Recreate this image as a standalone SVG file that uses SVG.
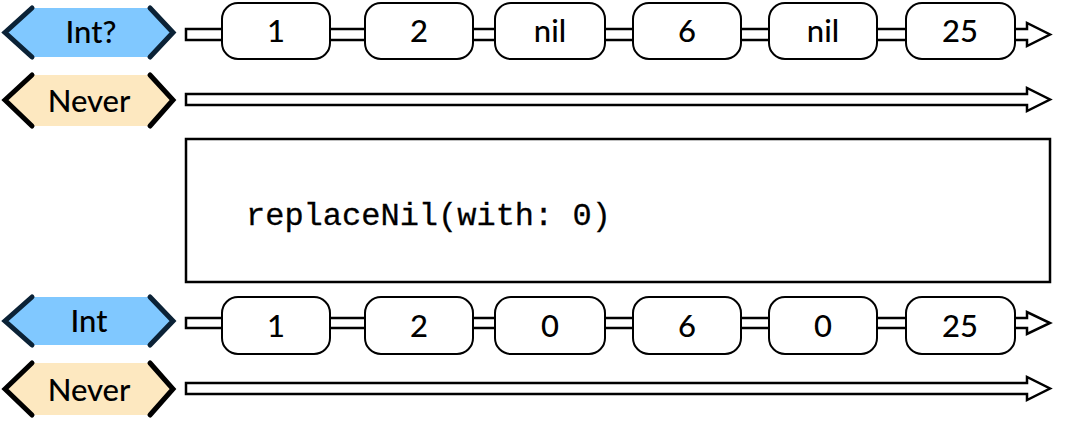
<svg xmlns="http://www.w3.org/2000/svg" width="1072" height="422" viewBox="0 0 1072 422">
<defs>
<style>
.bg{fill:#ffffff}
.arrow{fill:#ffffff;stroke:#000;stroke-width:2.5;stroke-linejoin:miter}
.node rect{fill:#ffffff;stroke:#000;stroke-width:2}
.node text{font-family:Lato,"Liberation Sans",sans-serif;font-size:31px;font-weight:500;text-anchor:middle;fill:#000}
.badge text{font-family:Lato,"Liberation Sans",sans-serif;font-size:31px;font-weight:500;text-anchor:middle;fill:#000}
.blue .fill{fill:#80c8ff}
.yellow .fill{fill:#fde8c0}
.chev{fill:none;stroke-width:5;stroke-linecap:round;stroke-linejoin:miter}
.blue .chev{stroke:#0b2236}
.yellow .chev{stroke:#000}
.box{fill:#fff;stroke:#000;stroke-width:2.5}
.code{font-family:"Liberation Mono",monospace;font-size:32px;fill:#000;stroke:#000;stroke-width:0.3}
</style>
</defs>
<rect class="bg" x="0" y="0" width="1072" height="422"/>

<g id="connectors">
<path class="arrow" d="M186,29 H1027 V23 L1050,34.5 L1027,46 V40 H186 Z"/>
<path class="arrow" d="M186,94 H1027 V88 L1050,99.5 L1027,111 V105 H186 Z"/>
<path class="arrow" d="M186,318 H1027 V312 L1050,323 L1027,334 V328 H186 Z"/>
<path class="arrow" d="M186,383 H1027 V377 L1050,388.5 L1027,400 V394 H186 Z"/>
</g>

<g id="badge-int-optional" class="badge blue">
<polygon class="fill" points="32,8 150,8 173,32.5 150,57 32,57 5,32.5"/>
<polyline class="chev" points="32,8 5,32.5 32,57"/>
<polyline class="chev" points="150,8 173,32.5 150,57"/>
<text x="91" y="43">Int?</text>
</g>
<g id="badge-never-1" class="badge yellow">
<polygon class="fill" points="32,75 150,75 173,100 150,126 32,126 5,100"/>
<polyline class="chev" points="32,75 5,100 32,126"/>
<polyline class="chev" points="150,75 173,100 150,126"/>
<text x="89" y="112">Never</text>
</g>
<g id="badge-int" class="badge blue">
<polygon class="fill" points="32,297 150,297 173,321 150,345 32,345 5,321"/>
<polyline class="chev" points="32,297 5,321 32,345"/>
<polyline class="chev" points="150,297 173,321 150,345"/>
<text x="89" y="332">Int</text>
</g>
<g id="badge-never-2" class="badge yellow">
<polygon class="fill" points="32,363 150,363 173,389 150,415 32,415 5,389"/>
<polyline class="chev" points="32,363 5,389 32,415"/>
<polyline class="chev" points="150,363 173,389 150,415"/>
<text x="89" y="401">Never</text>
</g>

<g id="n1a" class="node"><rect x="222" y="3" width="108" height="56" rx="16"/><text x="276" y="42">1</text></g>
<g id="n2a" class="node"><rect x="365" y="3" width="108" height="56" rx="16"/><text x="419" y="42">2</text></g>
<g id="n3a" class="node"><rect x="495" y="3" width="110" height="56" rx="16"/><text x="550" y="42">nil</text></g>
<g id="n4a" class="node"><rect x="633" y="3" width="108" height="56" rx="16"/><text x="687" y="42">6</text></g>
<g id="n5a" class="node"><rect x="769" y="3" width="108" height="56" rx="16"/><text x="823" y="42">nil</text></g>
<g id="n6a" class="node"><rect x="906" y="3" width="109" height="56" rx="16"/><text x="960" y="42">25</text></g>

<g id="op"><rect class="box" x="186" y="139" width="864" height="143"/><text class="code" x="246" y="225">replaceNil(with: 0)</text></g>

<g id="n1b" class="node"><rect x="222" y="297" width="108" height="57" rx="16"/><text x="276" y="337">1</text></g>
<g id="n2b" class="node"><rect x="365" y="297" width="108" height="57" rx="16"/><text x="419" y="337">2</text></g>
<g id="n3b" class="node"><rect x="495" y="297" width="110" height="57" rx="16"/><text x="550" y="337">0</text></g>
<g id="n4b" class="node"><rect x="633" y="297" width="108" height="57" rx="16"/><text x="687" y="337">6</text></g>
<g id="n5b" class="node"><rect x="769" y="297" width="108" height="57" rx="16"/><text x="823" y="337">0</text></g>
<g id="n6b" class="node"><rect x="906" y="297" width="109" height="57" rx="16"/><text x="960" y="337">25</text></g>
</svg>
